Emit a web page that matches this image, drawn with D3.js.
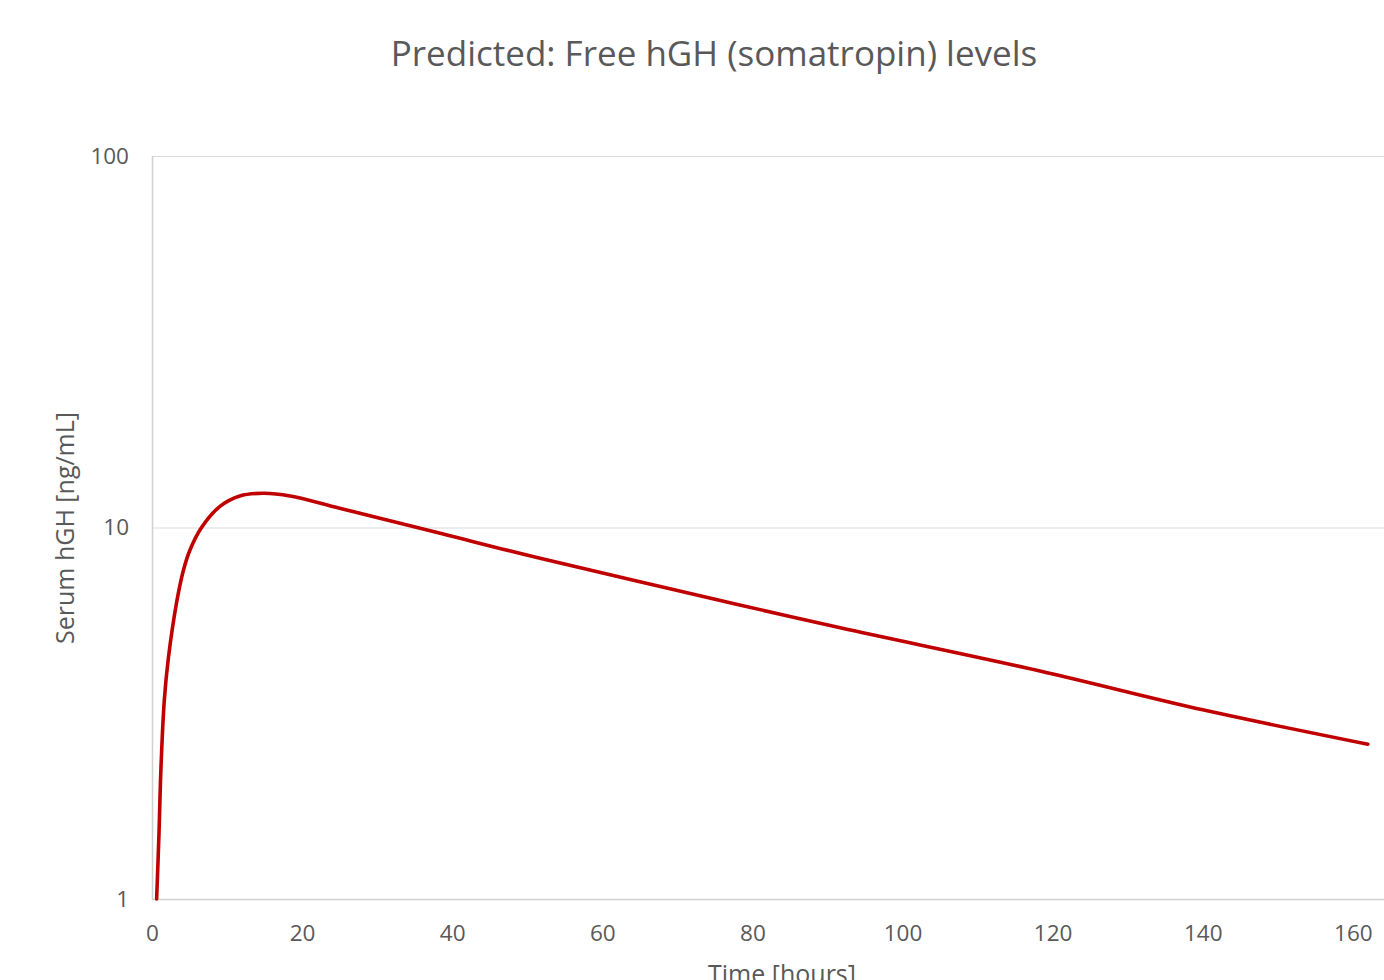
<!DOCTYPE html>
<html>
<head>
<meta charset="utf-8">
<script src="https://cdn.jsdelivr.net/npm/d3@7"></script>
<style>
  html, body { margin: 0; padding: 0; background: #fff; }
  svg { display: block; }
  text { font-family: "Open Sans", "Noto Sans", sans-serif; fill: #595959; }
</style>
</head>
<body>
<svg id="chart" width="1384" height="980"></svg>
<script>
// Data
const timeHours = [0.62, 0.93, 1.2, 1.64, 2.18, 3.29, 4.17, 5.06, 6.6, 9.06, 11.7, 14.8, 18.4, 25, 38.4, 51.7, 78.3, 91.7, 118.3, 140, 162];
const serumHGH  = [1.0, 1.5, 2.27, 3.43, 4.45, 6.3, 7.65, 8.7, 10.0, 11.4, 12.16, 12.36, 12.16, 11.27, 9.65, 8.26, 6.19, 5.37, 4.11, 3.23, 2.61];
const xTicks = [0, 20, 40, 60, 80, 100, 120, 140, 160];
const yTicks = [1, 10, 100];
const titleText = "Predicted: Free hGH (somatropin) levels";
const xTitle = "Time [hours]";
const yTitle = "Serum hGH [ng/mL]";

const svg = d3.select("#chart");
const pLeft = 152, pRight = 1384, pTop = 156, pBottom = 899;

const x = d3.scaleLinear().domain([0, 164.15]).range([pLeft, pRight]);
const y = d3.scaleLog().domain([1, 100]).range([pBottom, pTop]);

// gridlines
svg.append("g").selectAll("line").data(yTicks.slice(1)).join("line")
  .attr("x1", pLeft).attr("x2", pRight)
  .attr("y1", d => y(d) + 0.5).attr("y2", d => y(d) + 0.5)
  .attr("stroke", "#d9d9d9").attr("stroke-width", 1);

// axes lines
svg.append("line").attr("x1", pLeft + 0.5).attr("x2", pLeft + 0.5)
  .attr("y1", pTop).attr("y2", pBottom + 1)
  .attr("stroke", "#d0d0d0").attr("stroke-width", 1.5);
svg.append("line").attr("x1", pLeft).attr("x2", pRight)
  .attr("y1", pBottom + 0.5).attr("y2", pBottom + 0.5)
  .attr("stroke", "#d0d0d0").attr("stroke-width", 1.5);

// y tick labels
const yAxis = d3.axisLeft(y).tickValues(yTicks).tickFormat(d3.format("d")).tickSize(0).tickPadding(23);
const gy = svg.append("g").attr("transform", `translate(${pLeft},0)`).call(yAxis);
gy.select(".domain").remove();
gy.selectAll("text").style("font-size", "22.5px").attr("fill", "#595959").attr("dy", "0.32em");

// x tick labels
const xAxis = d3.axisBottom(x).tickValues(xTicks).tickFormat(d3.format("d")).tickSize(0).tickPadding(26);
const gx = svg.append("g").attr("transform", `translate(0,${pBottom})`).call(xAxis);
gx.select(".domain").remove();
gx.selectAll("text").style("font-size", "22.5px").attr("fill", "#595959");

// line
const line = d3.line().x((d, i) => x(timeHours[i])).y(d => y(d)).curve(d3.curveCatmullRom.alpha(0.5));
svg.append("path").datum(serumHGH)
  .attr("d", line)
  .attr("fill", "none").attr("stroke", "#C00000").attr("stroke-width", 3.6)
  .attr("stroke-linecap", "round").attr("stroke-linejoin", "round");

// title
svg.append("text").attr("x", 714).attr("y", 66).attr("text-anchor", "middle")
  .style("font-size", "35px").text(titleText);

// axis titles
svg.append("text").attr("transform", `translate(74,528) rotate(-90)`).attr("text-anchor", "middle")
  .style("font-size", "25px").text(yTitle);
svg.append("text").attr("x", 782).attr("y", 983).attr("text-anchor", "middle")
  .style("font-size", "25px").text(xTitle);
</script>
</body>
</html>
